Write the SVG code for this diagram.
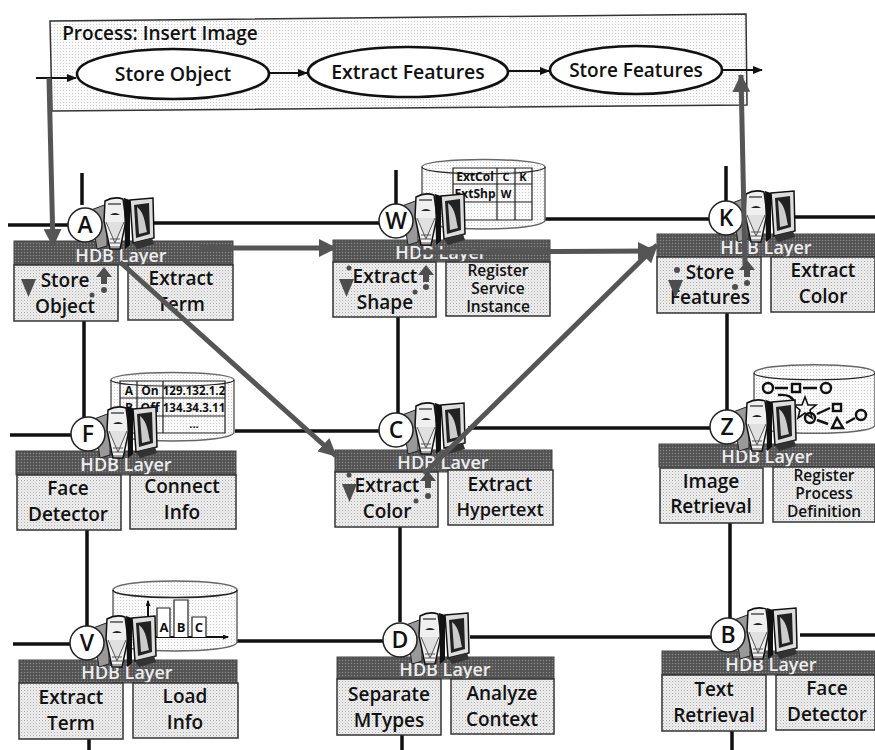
<svg xmlns="http://www.w3.org/2000/svg" xmlns:xlink="http://www.w3.org/1999/xlink" width="875" height="750" viewBox="0 0 875 750">
<style>
text{font-family:"Open Sans","Noto Sans","Liberation Sans",sans-serif;font-weight:600;fill:#111;text-anchor:middle}
.t{font-size:19px}
.e{font-size:19.5px}
.s{font-size:15.5px}
.h{font-size:18px;fill:#eee}
.c{font-size:23px}
.m{font-size:11px;font-weight:700}
.l{stroke:#111;stroke-width:3.5;fill:none}
.thin{stroke:#111;stroke-width:2;fill:none}
.box{fill:url(#ht);stroke:#333;stroke-width:1.5}
.hd{fill:url(#hd);stroke:#444;stroke-width:1}
.ci{fill:#fff;stroke:#222;stroke-width:1.5}
.db{fill:url(#ht2);stroke:#666;stroke-width:1.5}
.ar{stroke:#555;stroke-width:5;fill:none}
.gr{stroke:#222;stroke-width:1.2;fill:none}
.mk{fill:#4d4d4d}
</style>
<defs>
<pattern id="ht" width="3" height="3" patternUnits="userSpaceOnUse"><rect width="3" height="3" fill="#efefef"/><rect width="1" height="1" fill="#aaa"/><rect x="1.5" y="1.5" width="1" height="1" fill="#ccc"/></pattern>
<pattern id="ht2" width="3" height="3" patternUnits="userSpaceOnUse"><rect width="3" height="3" fill="#fafafa"/><rect width="1" height="1" fill="#ccc"/></pattern>
<pattern id="hd" width="3" height="3" patternUnits="userSpaceOnUse"><rect width="3" height="3" fill="#5c5c5c"/><rect width="1" height="1" fill="#888"/><rect x="1.5" y="1.5" width="1" height="1" fill="#333"/></pattern>
<marker id="big" markerWidth="3.6" markerHeight="3.6" refX="3.4" refY="1.8" orient="auto" markerUnits="strokeWidth"><path d="M0 0L3.6 1.8L0 3.6Z" fill="#555"/></marker>
<marker id="sm" markerWidth="10" markerHeight="8" refX="9" refY="4" orient="auto" markerUnits="userSpaceOnUse"><path d="M0 0L10 4L0 8Z" fill="#111"/></marker>
<marker id="ti" markerWidth="6" markerHeight="5" refX="5" refY="2.5" orient="auto" markerUnits="userSpaceOnUse"><path d="M0 0L6 2.5L0 5Z" fill="#111"/></marker>
<g id="pc">
<path d="M6-15L22-21V21L12 24Z" fill="#999" stroke="#222"/>
<path d="M20-24Q29-29 38-26L41-4L35 24H25L19-4Z" fill="#f0f0f0" stroke="#111" stroke-width="1.5"/>
<path d="M21-3L30 18L39-3" fill="#e0e0e0" stroke="#555"/>
<path d="M25-10Q30-14 35-10Z" fill="#222"/><path d="M23-21H36" stroke="#777" stroke-width="2"/>
<path d="M25 14H35M25 18H35M25 22H35" stroke="#555"/>
<path d="M39-27L45-25V20L40 24Z" fill="#111"/>
<path d="M45-25L68-27L69 13L48 18Z" fill="#ddd" stroke="#111" stroke-width="1.5"/>
<path d="M49-20L64-22L65 9L51 13Z" fill="#222"/>
<path d="M52-18C60-12 60 0 62 7L54 9Z" fill="#ccc"/>
<path d="M48 18L67 13L69 19L52 24Z" fill="#333"/>
</g>
<g id="dn"><path d="M0 0H15L7.5 18Z" class="mk"/></g>
<g id="up"><path d="M-8 7L0-3L8 7L3 7V14H-3V7Z" class="mk"/></g>
</defs>

<rect width="875" height="750" fill="#fff"/>

<g id="process">
<path d="M50 21L746 14L747 105L52 111Z" fill="url(#ht2)" stroke="none"/>
<path d="M52 111L50 21L746 14L747 105L52 111" stroke="#333" stroke-width="1.5" fill="none"/>
<text x="160" y="40" style="font-size:19px">Process: Insert Image</text>
</g>

<g id="connectors">
<path class="l" d="M8 225H70M150 223H380M545 219H710M795 217H875M10 435H72M235 431H380M468 428H710M13 644H70M236 641H385M470 637H712M800 635H875"/>
<path class="l" d="M82 173V205M84 321V417M87 530V626M89 739V750M396 170V205M398 317V413M400 527V622M402 735V750M726 166V202M727 313V410M730 523V620M732 731V750"/>
<path class="thin" d="M36 78H76" marker-end="url(#sm)"/>
<path class="thin" d="M269 73H307" marker-end="url(#sm)"/>
<path class="thin" d="M508 71H549" marker-end="url(#sm)"/>
<path class="thin" d="M722 70H762" marker-end="url(#sm)"/>
</g>

<g id="op-store-object"><ellipse cx="173" cy="74" rx="96" ry="25" fill="#fff" stroke="#111" stroke-width="2.6"/><text x="173" y="81" class="e">Store Object</text></g>
<g id="op-extract-features"><ellipse cx="408" cy="72" rx="100" ry="25" fill="#fff" stroke="#111" stroke-width="2.6"/><text x="408" y="79" class="e">Extract Features</text></g>
<g id="op-store-features"><ellipse cx="636" cy="70" rx="86" ry="24" fill="#fff" stroke="#111" stroke-width="2.6"/><text x="636" y="77" class="e" style="font-size:19px">Store Features</text></g>

<g id="db-w">
<path class="db" d="M422 167C422 157 545 157 545 167V220C545 232 422 232 422 220Z"/>
<path class="gr" d="M422 167C422 176 545 176 545 167"/>
<path class="gr" d="M453 168H532V220H453ZM497 168V220M515 168V220M453 184H532M453 202H532"/>
<text x="475" y="181" class="m" style="font-size:12px">ExtCol</text><text x="506" y="181" class="m">C</text><text x="523" y="181" class="m">K</text>
<text x="475" y="198" class="m" style="font-size:12px">ExtShp</text><text x="506" y="198" class="m">W</text>
</g>
<g id="db-f">
<path class="db" d="M111 380C111 370 234 370 234 380V432C234 444 111 444 111 432Z"/>
<path class="gr" d="M111 380C111 388 234 388 234 380"/>
<path class="gr" d="M120 381H225V433H120ZM137 381V433M163 381V433M120 398H225M120 416H225"/>
<text x="129" y="395" class="m" style="font-size:12px">A</text><text x="150" y="395" class="m" style="font-size:12px">On</text><text x="194" y="395" class="m" style="font-size:11.5px">129.132.1.2</text>
<text x="129" y="412" class="m" style="font-size:12px">B</text><text x="150" y="412" class="m" style="font-size:12px">Off</text><text x="194" y="412" class="m" style="font-size:11.5px">134.34.3.11</text>
<text x="194" y="428" class="m">...</text>
</g>
<g id="db-v">
<path class="db" d="M113 590C113 578 237 578 237 590V642C237 654 113 654 113 642Z"/>
<path class="gr" d="M113 590C113 600 237 600 237 590" style="stroke-width:1.6"/>
<path class="thin" d="M148 640V601" marker-end="url(#ti)"/>
<path class="thin" d="M148 637H228" marker-end="url(#ti)"/>
<path class="gr" d="M157 637V608H170V637M174 637V600H188V637M192 637V617H206V637" style="fill:#fff"/>
<text x="164" y="632" class="m" style="font-size:13px">A</text><text x="181" y="632" class="m" style="font-size:13px">B</text><text x="199" y="632" class="m" style="font-size:13px">C</text>
</g>
<g id="db-z">
<path class="db" d="M754 373C754 362 875 362 875 373V425C875 436 754 436 754 425Z"/>
<path class="gr" d="M754 373C754 382 875 382 875 373"/>
<g fill="none" stroke="#111" stroke-width="2.4">
<circle cx="768" cy="388" r="5"/><rect x="792" y="384" width="8" height="8"/><circle cx="826" cy="388" r="5"/>
<path d="M775 388H788M803 388H817M778 395C790 394 792 398 795 402"/>
<circle cx="810" cy="418" r="5"/><rect x="833" y="404" width="8" height="7"/><path d="M832 428L837 418L843 428Z"/><circle cx="861" cy="415" r="5"/>
<path d="M817 414L830 408M817 420L828 424M846 423L855 418"/>
<path d="M805 397L808 405L816 405L810 410L812 418L805 413L798 418L800 410L794 405L802 405Z" stroke-width="1.6"/>
</g>
</g>

<g id="node-a">
<rect class="hd" x="14" y="241" width="219" height="24"/>
<text class="h" x="121" y="262">HDB Layer</text>
<rect class="box" x="14" y="265" width="104" height="56"/><rect class="box" x="128" y="265" width="105" height="55"/>
<text class="t" x="65" y="287">Store</text><text class="t" x="65" y="313">Object</text>
<text class="t" x="181" y="285">Extract</text><text class="t" x="181" y="311">Term</text>
<use xlink:href="#pc" href="#pc" x="85" y="225"/><circle class="ci" cx="85" cy="225" r="17"/><text class="c" x="85" y="233">A</text>
</g>
<g id="node-w">
<rect class="hd" x="333" y="240" width="217" height="22"/>
<text class="h" x="441" y="259">HDB Layer</text>
<rect class="box" x="333" y="262" width="103" height="55"/><rect class="box" x="446" y="262" width="104" height="54"/>
<text class="t" x="385" y="283">Extract</text><text class="t" x="385" y="309">Shape</text>
<text class="s" x="498" y="276">Register</text><text class="s" x="498" y="294">Service</text><text class="s" x="498" y="312">Instance</text>
<use xlink:href="#pc" href="#pc" x="396" y="221"/><circle class="ci" cx="396" cy="221" r="17"/><text class="c" x="396" y="229">W</text>
</g>
<g id="node-k">
<rect class="hd" x="657" y="234" width="218" height="23"/>
<text class="h" x="766" y="254">HDB Layer</text>
<rect class="box" x="657" y="257" width="104" height="56"/><rect class="box" x="771" y="257" width="104" height="55"/>
<text class="t" x="710" y="279">Store</text><text class="t" x="710" y="304">Features</text>
<text class="t" x="823" y="277">Extract</text><text class="t" x="823" y="303">Color</text>
<use xlink:href="#pc" href="#pc" x="726" y="218"/><circle class="ci" cx="726" cy="218" r="17"/><text class="c" x="726" y="226">K</text>
</g>
<g id="node-f">
<rect class="hd" x="16" y="451" width="220" height="24"/>
<text class="h" x="126" y="471">HDB Layer</text>
<rect class="box" x="17" y="475" width="104" height="55"/><rect class="box" x="130" y="475" width="106" height="54"/>
<text class="t" x="68" y="495">Face</text><text class="t" x="68" y="521">Detector</text>
<text class="t" x="182" y="493">Connect</text><text class="t" x="182" y="519">Info</text>
<use xlink:href="#pc" href="#pc" x="88" y="434"/><circle class="ci" cx="88" cy="434" r="17"/><text class="c" x="88" y="442">F</text>
</g>
<g id="node-c">
<rect class="hd" x="335" y="450" width="217" height="22"/>
<text class="h" x="443" y="469">HDB Layer</text>
<rect class="box" x="335" y="472" width="103" height="55"/><rect class="box" x="448" y="470" width="105" height="55"/>
<text class="t" x="387" y="492">Extract</text><text class="t" x="387" y="518">Color</text>
<text class="t" x="500" y="491">Extract</text><text class="t" x="500" y="516" style="font-size:18px">Hypertext</text>
<use xlink:href="#pc" href="#pc" x="396" y="430"/><circle class="ci" cx="396" cy="430" r="17"/><text class="c" x="396" y="438">C</text>
</g>
<g id="node-z">
<rect class="hd" x="659" y="444" width="216" height="23"/>
<text class="h" x="767" y="463">HDB Layer</text>
<rect class="box" x="660" y="468" width="103" height="55"/><rect class="box" x="773" y="467" width="102" height="55"/>
<text class="t" x="711" y="488">Image</text><text class="t" x="711" y="513">Retrieval</text>
<text class="s" x="824" y="481">Register</text><text class="s" x="824" y="499">Process</text><text class="s" x="824" y="517">Definition</text>
<use xlink:href="#pc" href="#pc" x="727" y="427"/><circle class="ci" cx="727" cy="427" r="17"/><text class="c" x="727" y="435">Z</text>
</g>
<g id="node-v">
<rect class="hd" x="19" y="660" width="218" height="23"/>
<text class="h" x="127" y="679">HDB Layer</text>
<rect class="box" x="19" y="683" width="104" height="56"/><rect class="box" x="133" y="683" width="105" height="55"/>
<text class="t" x="71" y="704">Extract</text><text class="t" x="71" y="730">Term</text>
<text class="t" x="185" y="703">Load</text><text class="t" x="185" y="729">Info</text>
<use xlink:href="#pc" href="#pc" x="87" y="643"/><circle class="ci" cx="87" cy="643" r="17"/><text class="c" x="87" y="651">V</text>
</g>
<g id="node-d">
<rect class="hd" x="337" y="657" width="217" height="22"/>
<text class="h" x="445" y="676">HDB Layer</text>
<rect class="box" x="337" y="679" width="104" height="56"/><rect class="box" x="451" y="679" width="103" height="55"/>
<text class="t" x="389" y="701">Separate</text><text class="t" x="389" y="727">MTypes</text>
<text class="t" x="502" y="700">Analyze</text><text class="t" x="502" y="726">Context</text>
<use xlink:href="#pc" href="#pc" x="400" y="640"/><circle class="ci" cx="400" cy="640" r="17"/><text class="c" x="400" y="648">D</text>
</g>
<g id="node-b">
<rect class="hd" x="662" y="651" width="213" height="24"/>
<text class="h" x="771" y="671">HDB Layer</text>
<rect class="box" x="662" y="675" width="104" height="56"/><rect class="box" x="776" y="675" width="99" height="55"/>
<text class="t" x="714" y="696">Text</text><text class="t" x="714" y="722">Retrieval</text>
<text class="t" x="827" y="695">Face</text><text class="t" x="827" y="721">Detector</text>
<use xlink:href="#pc" href="#pc" x="728" y="635"/><circle class="ci" cx="728" cy="635" r="17"/><text class="c" x="728" y="643">B</text>
</g>

<g id="flow">
<path class="ar" d="M49 78L53 246" marker-end="url(#big)"/>
<path class="ar" d="M200 248L336 248" marker-end="url(#big)"/>
<path class="ar" d="M420 252L655 251" marker-end="url(#big)"/>
<path class="ar" d="M120 262L336 456" marker-end="url(#big)"/>
<path class="ar" d="M424 474L657 245" marker-end="url(#big)"/>
<path class="ar" d="M745 265L741 75" marker-end="url(#big)"/>
<use xlink:href="#dn" href="#dn" x="21" y="279"/><use xlink:href="#up" href="#up" x="104" y="270"/>
<use xlink:href="#dn" href="#dn" x="339" y="279"/><use xlink:href="#up" href="#up" x="426" y="268"/>
<use xlink:href="#dn" href="#dn" x="342" y="484"/><use xlink:href="#up" href="#up" x="428" y="474"/>
<use xlink:href="#dn" href="#dn" x="668" y="280"/><use xlink:href="#up" href="#up" x="747" y="263"/>
<g class="mk"><circle cx="104" cy="290" r="3"/><circle cx="92" cy="295" r="2.5"/><circle cx="349" cy="268" r="2.5"/><circle cx="426" cy="287" r="3"/><circle cx="415" cy="292" r="2.5"/><circle cx="349" cy="475" r="2.5"/><circle cx="428" cy="496" r="3"/><circle cx="416" cy="501" r="2.5"/><circle cx="677" cy="270" r="3"/><circle cx="747" cy="283" r="3"/><circle cx="735" cy="287" r="3"/></g>
</g>
</svg>
